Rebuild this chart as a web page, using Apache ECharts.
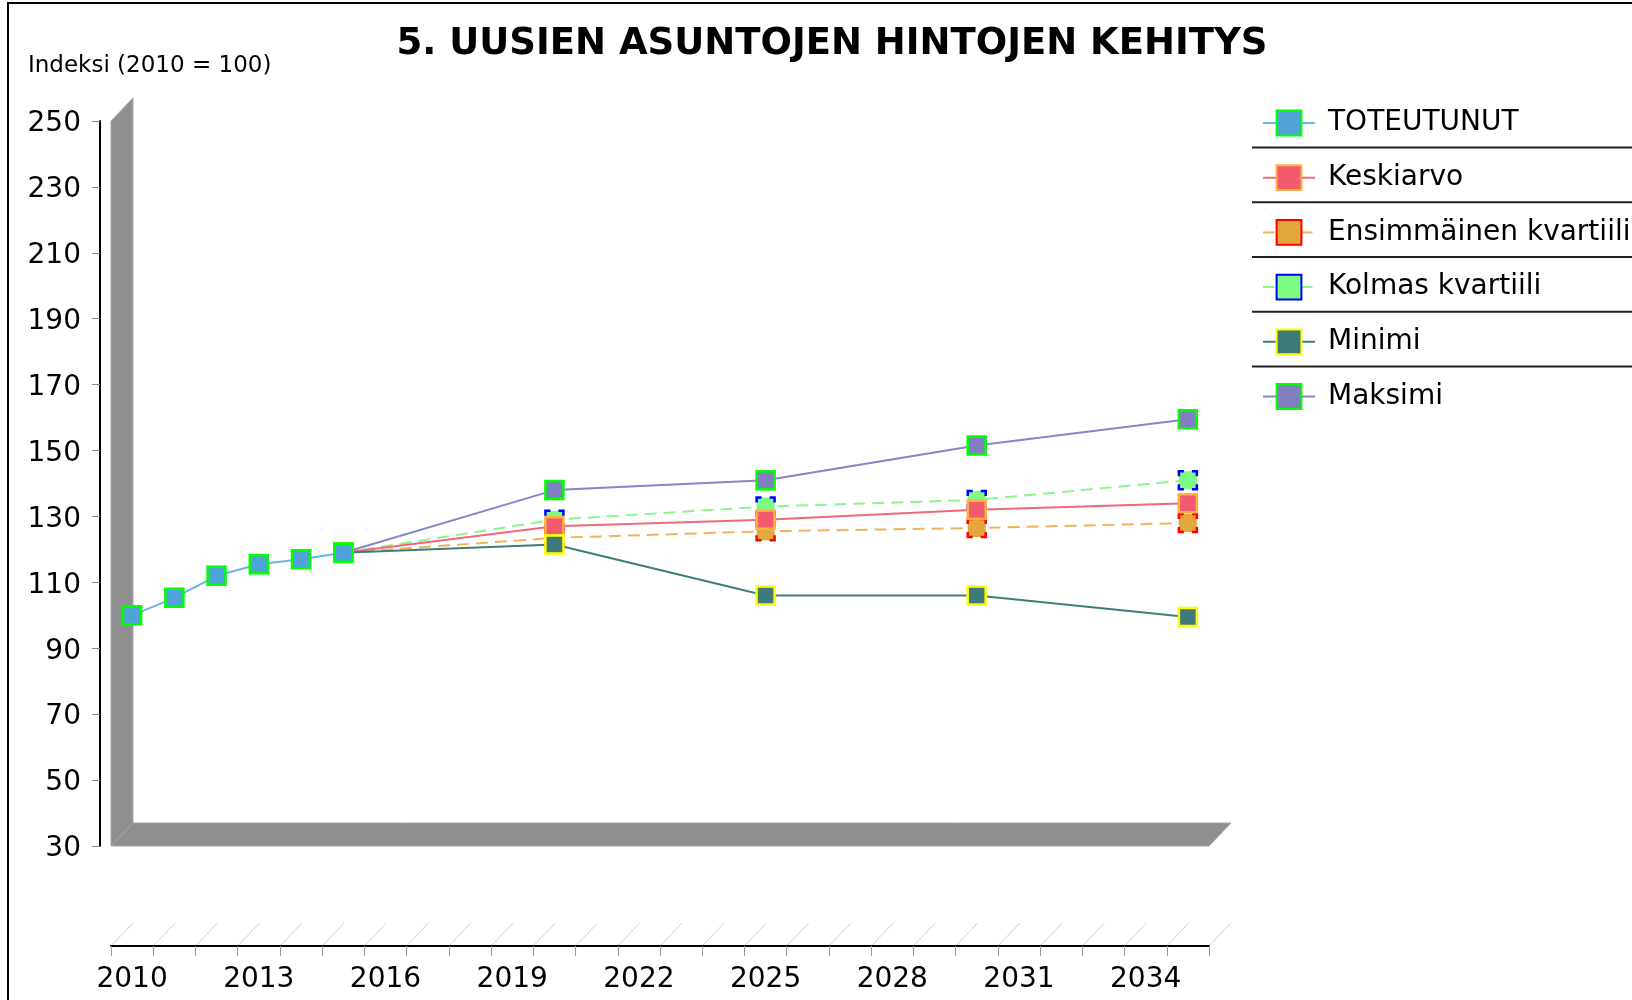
<!DOCTYPE html>
<html lang="fi">
<head>
<meta charset="utf-8">
<title>Uusien asuntojen hintojen kehitys</title>
<script src="https://cdn.jsdelivr.net/npm/echarts@6/dist/echarts.min.js"></script>
<style>
    html, body { margin: 0; padding: 0; background: #fff; }
    #chart { width: 1632px; height: 1000px; }
</style>
</head>
<body>
<div id="chart"></div>
<script>
const years = ['2010', '2011', '2012', '2013', '2014', '2015', '2016', '2017', '2018',
    '2019', '2020', '2021', '2022', '2023', '2024', '2025', '2026', '2027', '2028',
    '2029', '2030', '2031', '2032', '2033', '2034', '2035'];

const actualYears = ['2010', '2011', '2012', '2013', '2014', '2015'];
const toteutunut = [100, 105.3, 112, 115.5, 117, 119];

const forecastYears = ['2015', '2020', '2025', '2030', '2035'];
const keskiarvo = [119, 127, 129, 132, 134];
const ensimmainenKvartiili = [119, 123.5, 125.5, 126.5, 128];
const kolmasKvartiili = [119, 129, 133, 135, 141];
const minimi = [119, 121.5, 106, 106, 99.5];
const maksimi = [119, 138, 141, 151.5, 159.5];

const Y_MIN = 30;
const Y_MAX = 250;
const Y_STEP = 20;

const FONT = 'DejaVu Sans';
const DEPTH = { x: 22, y: 23 };   // fake 3D offset of wall / floor
const LEGEND = { left: 1262, top: 109, itemHeight: 31, itemGap: 26.7 };
const RULES = { first: 147.5, step: 54.75 };   // lines between legend rows

const seriesNames = ['TOTEUTUNUT', 'Keskiarvo', 'Ensimmäinen kvartiili',
    'Kolmas kvartiili', 'Minimi', 'Maksimi'];

function makeSeries(name, xs, values, s) {
    return {
        name: name,
        type: 'line',
        z: s.z,
        data: xs.map((x, i) => [x, values[i]]),
        symbol: 'rect',
        symbolSize: 18,
        lineStyle: {
            color: s.line,
            width: 2,
            type: s.dashed ? [12, 7] : 'solid'
        },
        itemStyle: {
            color: s.fill,
            borderColor: s.border,
            borderWidth: 2.5,
            borderType: s.dashed ? [10, 8] : 'solid',
            borderDashOffset: 5
        },
        emphasis: { disabled: true }
    };
}

const chart = echarts.init(document.getElementById('chart'));

chart.setOption({
    animation: false,
    textStyle: { fontFamily: FONT },
    title: [{
        text: '5. UUSIEN ASUNTOJEN HINTOJEN KEHITYS',
        left: 832,
        top: 26,
        padding: 0,
        textAlign: 'center',
        textStyle: { fontFamily: FONT, fontSize: 37, fontWeight: 'bold', color: '#000' }
    }, {
        text: 'Indeksi (2010 = 100)',
        left: 28,
        top: 55,
        padding: 0,
        textStyle: { fontFamily: FONT, fontSize: 23, fontWeight: 'normal', color: '#000' }
    }],
    legend: {
        orient: 'vertical',
        left: LEGEND.left,
        top: LEGEND.top,
        padding: 0,
        itemWidth: 52,
        itemHeight: LEGEND.itemHeight,
        itemGap: LEGEND.itemGap,
        selectedMode: false,
        data: seriesNames,
        textStyle: { fontFamily: FONT, fontSize: 28, color: '#000', padding: [0, 0, 0, 8] }
    },
    grid: { left: 111, right: 423, top: 121, bottom: 154, outerBoundsMode: 'none' },
    xAxis: {
        type: 'category',
        data: years,
        boundaryGap: true,
        offset: 100,
        axisLine: { lineStyle: { color: '#000', width: 2 } },
        axisTick: { show: true, interval: 0, length: 10, lineStyle: { color: '#999' } },
        axisLabel: { interval: 2, fontSize: 28, color: '#000', margin: 20, fontFamily: FONT },
        splitLine: { show: false }
    },
    yAxis: {
        type: 'value',
        min: Y_MIN,
        max: Y_MAX,
        interval: Y_STEP,
        offset: 11,
        axisLine: { show: true, lineStyle: { color: '#000', width: 2 } },
        axisTick: { show: true, length: 8, lineStyle: { color: '#888' } },
        axisLabel: {
            margin: 19,
            formatter: '{v|{value}}',
            rich: {
                v: { fontSize: 28, color: '#000', fontFamily: FONT, padding: [6, 0, 0, 0] }
            }
        },
        splitLine: { show: false }
    },
    series: [
        makeSeries('TOTEUTUNUT', actualYears, toteutunut,
            { line: '#6db4e6', fill: '#4fa3d9', border: '#00ff00', z: 6 }),
        makeSeries('Keskiarvo', forecastYears, keskiarvo,
            { line: '#f0697a', fill: '#f25a6e', border: '#ffb040', z: 4 }),
        makeSeries('Ensimmäinen kvartiili', forecastYears, ensimmainenKvartiili,
            { line: '#f0b35a', fill: '#e3a73d', border: '#ff0000', dashed: true, z: 2 }),
        makeSeries('Kolmas kvartiili', forecastYears, kolmasKvartiili,
            { line: '#8cf58c', fill: '#7dfb82', border: '#0000ff', dashed: true, z: 3 }),
        makeSeries('Minimi', forecastYears, minimi,
            { line: '#3f7d7b', fill: '#3d7a78', border: '#ffff00', z: 4 }),
        makeSeries('Maksimi', forecastYears, maksimi,
            { line: '#8585c8', fill: '#8080c0', border: '#00ff00', z: 4 })
    ]
});

// grey wall + floor, slanted axis ticks, legend rules and the frame
function drawDecor() {
    const c0 = chart.convertToPixel({ xAxisIndex: 0 }, 0);
    const c1 = chart.convertToPixel({ xAxisIndex: 0 }, 1);
    const band = c1 - c0;
    const left = c0 - band / 2;
    const right = left + band * years.length;
    const top = chart.convertToPixel({ yAxisIndex: 0 }, Y_MAX);
    const bottom = chart.convertToPixel({ yAxisIndex: 0 }, Y_MIN);
    const axisY = bottom + 100;

    const elements = [];
    elements.push({
        type: 'polygon', z: -1,
        shape: { points: [[left, top], [left + DEPTH.x, top - DEPTH.y],
            [left + DEPTH.x, bottom - DEPTH.y], [left, bottom]] },
        style: { fill: '#8f8f8f', stroke: '#a6a6a6', lineWidth: 1 }
    });
    elements.push({
        type: 'polygon', z: -1,
        shape: { points: [[left, bottom], [left + DEPTH.x, bottom - DEPTH.y],
            [right + DEPTH.x, bottom - DEPTH.y], [right, bottom]] },
        style: { fill: '#8f8f8f', stroke: '#a6a6a6', lineWidth: 1 }
    });
    for (let i = 0; i <= years.length; i++) {
        const x = left + band * i;
        elements.push({
            type: 'line', z: -1,
            shape: { x1: x, y1: axisY, x2: x + DEPTH.x, y2: axisY - DEPTH.y },
            style: { stroke: '#d0d0d0', lineWidth: 1 }
        });
    }
    for (let i = 0; i < seriesNames.length - 1; i++) {
        const y = RULES.first + i * RULES.step;
        elements.push({
            type: 'line',
            shape: { x1: 1252, y1: y, x2: 1640, y2: y },
            style: { stroke: '#222', lineWidth: 2 }
        });
    }
    elements.push({
        type: 'rect',
        shape: { x: 8, y: 3, width: 1700, height: 1100 },
        style: { fill: null, stroke: '#000', lineWidth: 2 }
    });

    chart.setOption({ graphic: { elements: elements } });
}

drawDecor();
</script>
</body>
</html>
